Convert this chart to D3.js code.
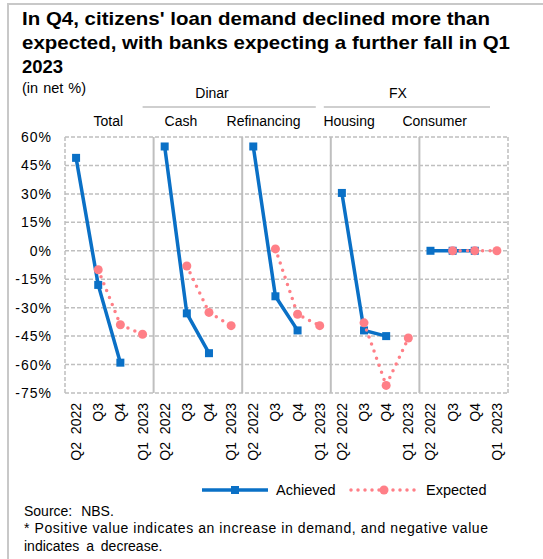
<!DOCTYPE html>
<html>
<head>
<meta charset="utf-8">
<script src="https://cdn.jsdelivr.net/npm/d3@7"></script>
<style>
  body { margin: 0; background: #fff; }
  text { font-family: "Liberation Sans", Arial, sans-serif; fill: #000; }
</style>
</head>
<body>
<svg id="chart" width="543" height="559"></svg>
<script>
// categories
var panels = ["Total", "Cash", "Refinancing", "Housing", "Consumer"];
var quarters = ["Q2 2022", "Q3", "Q4", "Q1 2023"];
var groupNames = ["Dinar", "FX"];
var groupPanels = [[1, 2], [3, 4]];
var yTicks = [60, 45, 30, 15, 0, -15, -30, -45, -60, -75];

// series values (net %), one value per quarter, null = no point
var totalAchieved    = [49, -18, -59, null];
var totalExpected    = [null, -10, -39, -44];
var cashAchieved     = [55, -33, -54, null];
var cashExpected     = [null, -8, -32.5, -39.5];
var refinAchieved    = [55, -24, -42, null];
var refinExpected    = [null, 1, -33.5, -39.5];
var housingAchieved  = [30.5, -42, -45, null];
var housingExpected  = [null, -38, -71, -46];
var consumerAchieved = [0, 0, 0, null];
var consumerExpected = [null, 0, 0, 0];

var achieved = [totalAchieved, cashAchieved, refinAchieved, housingAchieved, consumerAchieved];
var expected = [totalExpected, cashExpected, refinExpected, housingExpected, consumerExpected];

var blue = "#0a70c6", pink = "#ff7f87", grid = "#bfbfbf";

var svg = d3.select("#chart");

// frame (top + left only)
svg.append("line").attr("x1", 8).attr("x2", 543).attr("y1", 4).attr("y2", 4)
    .attr("stroke", "#c8c8c8").attr("stroke-width", 2);
svg.append("line").attr("x1", 8).attr("x2", 8).attr("y1", 3).attr("y2", 559)
    .attr("stroke", "#c8c8c8").attr("stroke-width", 2);

// title
var titleLines = [
    ["In Q4,  citizens' loan demand declined more than", 468],
    ["expected, with banks expecting a further fall in Q1", 488],
    ["2023", null]
];
titleLines.forEach(function(t, i) {
    var txt = svg.append("text")
        .attr("x", 22).attr("y", 25 + i * 24)
        .style("font-size", "18.5px").style("font-weight", "bold")
        .text(t[0]);
    if (t[1]) txt.attr("textLength", t[1]).attr("lengthAdjust", "spacingAndGlyphs");
});
svg.append("text").attr("x", 22).attr("y", 93).style("font-size", "14.5px")
    .style("word-spacing", "1px").text("(in net %)");

// scales
var cats = [];
panels.forEach(function(p, pi) {
    quarters.forEach(function(q, qi) { cats.push(pi + "_" + qi); });
});
var x = d3.scaleBand().domain(cats).range([65, 508]);
var y = d3.scaleLinear().domain([-75, 60]).range([393, 137]);
var panelLeft = function(pi) { return x(pi + "_0"); };
var panelRight = function(pi) { return x(pi + "_3") + x.bandwidth(); };
var cx = function(pi, qi) { return x(pi + "_" + qi) + x.bandwidth() / 2; };

// gridlines
svg.append("g").selectAll("line").data(yTicks).join("line")
    .attr("x1", 65).attr("x2", 508)
    .attr("y1", function(d) { return y(d); }).attr("y2", function(d) { return y(d); })
    .attr("stroke", grid).attr("stroke-width", 1.5).attr("stroke-dasharray", "4,2");
[65, 508].forEach(function(xx) {
    svg.append("line").attr("x1", xx).attr("x2", xx).attr("y1", y(60)).attr("y2", y(-75))
        .attr("stroke", grid).attr("stroke-width", 1.5).attr("stroke-dasharray", "4,2");
});
// panel separators
svg.append("g").selectAll("line").data(d3.range(1, panels.length)).join("line")
    .attr("x1", panelLeft).attr("x2", panelLeft)
    .attr("y1", y(60)).attr("y2", y(-75))
    .attr("stroke", grid).attr("stroke-width", 2);

// y axis labels
var yAxis = d3.axisLeft(y).tickValues(yTicks).tickSize(0).tickPadding(0)
    .tickFormat(function(d) { return d + "%"; });
var yg = svg.append("g").attr("transform", "translate(52,0)").call(yAxis);
yg.select(".domain").remove();
yg.selectAll("text").style("font-size", "14px").style("letter-spacing", "1px")
    .style("font-family", "'Liberation Sans', Arial, sans-serif").attr("fill", "#000");

// category labels (rotated)
var catLabels = svg.append("g");
panels.forEach(function(p, pi) {
    quarters.forEach(function(q, qi) {
        catLabels.append("text")
            .attr("transform", "translate(" + (cx(pi, qi) + 5) + ",403) rotate(-90)")
            .attr("text-anchor", "end")
            .style("font-size", "14px").style("word-spacing", "4px")
            .text(q);
    });
});

// panel headers
var headerShift = [-1, -17, -23, -26, -29];
panels.forEach(function(p, pi) {
    svg.append("text")
        .attr("x", (panelLeft(pi) + panelRight(pi)) / 2 + headerShift[pi]).attr("y", 126)
        .attr("text-anchor", "middle").style("font-size", "14px")
        .text(p);
});
// group headers
groupNames.forEach(function(g, gi) {
    var l = panelLeft(groupPanels[gi][0]) - 11, r = panelRight(groupPanels[gi][1]) - 15;
    if (gi === 1) { l = panelLeft(groupPanels[gi][0]) - 7; r = panelRight(groupPanels[gi][1]) - 18; }
    svg.append("line").attr("x1", l).attr("x2", r).attr("y1", 107).attr("y2", 107)
        .attr("stroke", grid).attr("stroke-width", 1.5);
    svg.append("text").attr("x", gi === 0 ? 212 : 398).attr("y", 98)
        .attr("text-anchor", "middle").style("font-size", "14px").text(g);
});

// series
var line = d3.line()
    .defined(function(d) { return d.v !== null; })
    .x(function(d) { return cx(d.p, d.q); })
    .y(function(d) { return y(d.v); });

function toPoints(vals, pi) {
    return vals.map(function(v, qi) { return {p: pi, q: qi, v: v}; });
}

var series = svg.append("g");
achieved.forEach(function(vals, pi) {
    var pts = toPoints(vals, pi);
    series.append("path").datum(pts).attr("d", line)
        .attr("fill", "none").attr("stroke", blue).attr("stroke-width", 3.5);
    series.append("g").selectAll("rect").data(pts.filter(function(d) { return d.v !== null; }))
        .join("rect")
        .attr("x", function(d) { return cx(d.p, d.q) - 4; })
        .attr("y", function(d) { return y(d.v) - 4; })
        .attr("width", 8).attr("height", 8).attr("fill", blue);
});
expected.forEach(function(vals, pi) {
    var pts = toPoints(vals, pi);
    series.append("path").datum(pts).attr("d", line)
        .attr("fill", "none").attr("stroke", pink).attr("stroke-width", 3.5)
        .attr("stroke-linecap", "round").attr("stroke-dasharray", "0,7.5");
    series.append("g").selectAll("circle").data(pts.filter(function(d) { return d.v !== null; }))
        .join("circle")
        .attr("cx", function(d) { return cx(d.p, d.q); })
        .attr("cy", function(d) { return y(d.v); })
        .attr("r", 4.5).attr("fill", pink);
});

// legend
var lg = svg.append("g");
lg.append("line").attr("x1", 202).attr("x2", 268).attr("y1", 490).attr("y2", 490)
    .attr("stroke", blue).attr("stroke-width", 3.5);
lg.append("rect").attr("x", 231).attr("y", 486).attr("width", 8).attr("height", 8).attr("fill", blue);
lg.append("text").attr("x", 276).attr("y", 495).style("font-size", "14.5px").text("Achieved");
lg.append("line").attr("x1", 351).attr("x2", 416).attr("y1", 490).attr("y2", 490)
    .attr("stroke", pink).attr("stroke-width", 3.5)
    .attr("stroke-linecap", "round").attr("stroke-dasharray", "0,7");
lg.append("circle").attr("cx", 384).attr("cy", 490).attr("r", 4.5).attr("fill", pink);
lg.append("text").attr("x", 426).attr("y", 495).style("font-size", "14.5px").text("Expected");

// notes
svg.append("text").attr("x", 24).attr("y", 516).style("font-size", "14px")
    .style("word-spacing", "5px").text("Source: NBS.");
svg.append("text").attr("x", 24).attr("y", 533).style("font-size", "14px")
    .attr("textLength", 464).attr("lengthAdjust", "spacing")
    .text("* Positive value indicates an increase in demand, and negative value");
svg.append("text").attr("x", 24).attr("y", 551).style("font-size", "14px")
    .style("word-spacing", "3px").text("indicates a decrease.");
</script>
</body>
</html>
